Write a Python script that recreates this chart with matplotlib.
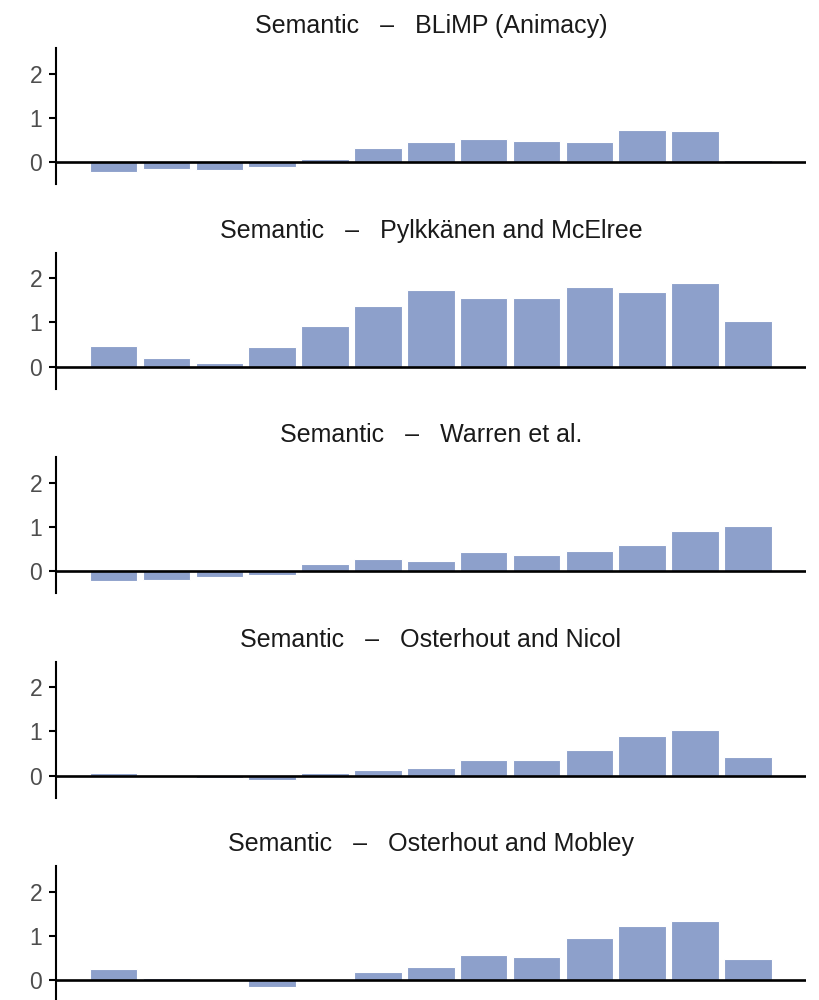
"""Layer-wise semantic probing scores, one panel per dataset."""

import matplotlib

matplotlib.use("Agg")
import matplotlib.pyplot as plt
import numpy as np

plt.rcParams["font.family"] = ["Liberation Sans", "DejaVu Sans"]

layers = np.arange(1, 14)

titles = [
    "Semantic   \u2013   BLiMP (Animacy)",
    "Semantic   \u2013   Pylkk\u00e4nen and McElree",
    "Semantic   \u2013   Warren et al.",
    "Semantic   \u2013   Osterhout and Nicol",
    "Semantic   \u2013   Osterhout and Mobley",
]

blimp_animacy = [-0.21, -0.16, -0.17, -0.10, 0.08, 0.33, 0.46, 0.52, 0.47, 0.45, 0.72, 0.70, 0.06]
pylkkanen = [0.47, 0.20, 0.08, 0.45, 0.92, 1.36, 1.72, 1.56, 1.56, 1.81, 1.69, 1.89, 1.03]
warren = [-0.23, -0.20, -0.13, -0.08, 0.17, 0.27, 0.24, 0.43, 0.37, 0.46, 0.59, 0.91, 1.01]
osterhout_nicol = [0.07, -0.03, -0.05, -0.10, 0.07, 0.14, 0.17, 0.36, 0.36, 0.58, 0.90, 1.03, 0.43]
osterhout_mobley = [0.25, 0.06, 0.0, -0.16, 0.0, 0.18, 0.31, 0.57, 0.52, 0.95, 1.23, 1.34, 0.47]

series = [blimp_animacy, pylkkanen, warren, osterhout_nicol, osterhout_mobley]

BAR_COLOR = "#8da0cb"

fig = plt.figure(figsize=(8.2, 10), dpi=100)

left, width, height = 56 / 820, 750 / 820, 135.7 / 1000
for k, (title, vals) in enumerate(zip(titles, series)):
    bottom = 1 - (184 + 204.5 * k) / 1000
    ax = fig.add_axes([left, bottom, width, height])
    ax.bar(layers, vals, width=0.9, color=BAR_COLOR, edgecolor="white", linewidth=0.8, zorder=2)
    ax.axhline(0, color="black", linewidth=1.9, zorder=3)
    ax.set_xlim(-0.09, 14.1)
    ax.set_ylim(-0.49, 2.57)
    ax.set_yticks([0, 1, 2])
    ax.set_xticks([])
    for side in ("top", "right", "bottom"):
        ax.spines[side].set_visible(False)
    ax.spines["left"].set_linewidth(1.5)
    ax.tick_params(axis="y", length=5, width=1.5, pad=5, labelsize=16.5, labelcolor="#4d4d4d")
    ax.set_title(title, fontsize=18, color="#1a1a1a", pad=11)

fig.savefig("out.png", dpi=100)
